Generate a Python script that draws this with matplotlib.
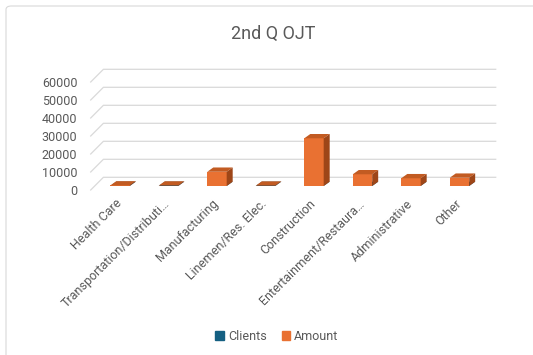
import matplotlib
matplotlib.use("Agg")
import matplotlib.pyplot as plt
from matplotlib.patches import Patch, FancyBboxPatch
from matplotlib.transforms import ScaledTranslation

categories = ["Health Care", "Transportation/Distributi…", "Manufacturing",
              "Linemen/Res. Elec.", "Construction", "Entertainment/Restaura…",
              "Administrative", "Other"]
clients = [10, 8, 25, 5, 70, 20, 15, 14]
amount = [300, 250, 7900, 200, 26500, 6500, 4300, 4600]
yticks = [0, 10000, 20000, 30000, 40000, 50000, 60000]

W, H = 533, 355
fig = plt.figure(figsize=(W / 100, H / 100), dpi=100)
plt.rcParams['font.family'] = ['Roboto', 'DejaVu Sans']
txt = '#595959'

# chart border (runs off the right and bottom edges)
fig.patches.append(FancyBboxPatch((6 / W, -0.1), 1.2, 1 - 6 / H + 0.1,
                                  boxstyle="round,pad=0,rounding_size=0.01",
                                  transform=fig.transFigure, fc='none',
                                  ec='#d9d9d9', lw=0.8, zorder=-1))

# front-floor plot area in pixels
left, right, base, top = 90.7, 483.0, 186.0, 78.0
ax = fig.add_axes([left / W, 1 - base / H, (right - left) / W, (base - top) / H])
xmin, xmax = -0.604, 7.485
ax.set_xlim(xmin, xmax)
ax.set_ylim(0, 60000)
ax.patch.set_visible(False)
for s in ax.spines.values():
    s.set_visible(False)

ux = (xmax - xmin) / (right - left)   # data units per pixel
uy = 60000 / (base - top)

# walls: slanted side lines and back-wall gridlines
bdx, bdy, fdy = 12.7, 8.7, -4.0
for v in yticks:
    ax.plot([xmin, xmin + bdx * ux, xmax + bdx * ux],
            [v + fdy * uy, v + bdy * uy, v + bdy * uy],
            color='#d9d9d9', lw=0.9, clip_on=False, zorder=1)

# bars with fake depth
w = 0.4
dx, dy = 6 * ux, 4.3 * uy
x = list(range(len(categories)))


def bars3d(vals, front, topc, side, z):
    ax.bar(x, vals, width=w, color=front, zorder=z)
    for xi, h in zip(x, vals):
        l, r = xi - w / 2, xi + w / 2
        ax.fill([l, r, r + dx, l + dx], [h, h, h + dy, h + dy],
                color=topc, lw=0, zorder=z, clip_on=False)
        ax.fill([r, r, r + dx, r + dx], [0, h, h + dy, dy],
                color=side, lw=0, zorder=z, clip_on=False)


bars3d(clients, '#156082', '#104a64', '#0d3d52', 2)
bars3d(amount, '#E97132', '#C25B22', '#9E4618', 3)

ax.set_yticks(yticks)
ax.set_yticklabels([str(v) for v in yticks])
ax.tick_params(axis='y', length=0, pad=9.6, labelsize=9, labelcolor=txt)
for lab in ax.get_yticklabels():
    lab.set_transform(lab.get_transform() +
                      ScaledTranslation(0, -4 / 100, fig.dpi_scale_trans))

ax.set_xticks(x)
ax.set_xticklabels(categories, rotation=45, ha='right', va='top',
                   rotation_mode='anchor')
ax.tick_params(axis='x', length=0, pad=8, labelsize=9, labelcolor=txt)
for lab in ax.get_xticklabels():
    lab.set_transform(lab.get_transform() +
                      ScaledTranslation(-5 / 100, 0, fig.dpi_scale_trans))

fig.text(273 / W, 1 - 34 / H, "2nd Q OJT", ha='center', va='center',
         fontsize=13, color=txt)

handles = [Patch(color='#156082', label='Clients'),
           Patch(color='#E97132', label='Amount')]
fig.legend(handles=handles, loc='center', bbox_to_anchor=(277 / W, 1 - 336 / H),
           ncol=2, frameon=False, fontsize=9, labelcolor=txt,
           handlelength=0.7, handleheight=0.7, handletextpad=0.3,
           columnspacing=1.2)

fig.savefig("out.png", dpi=100)
